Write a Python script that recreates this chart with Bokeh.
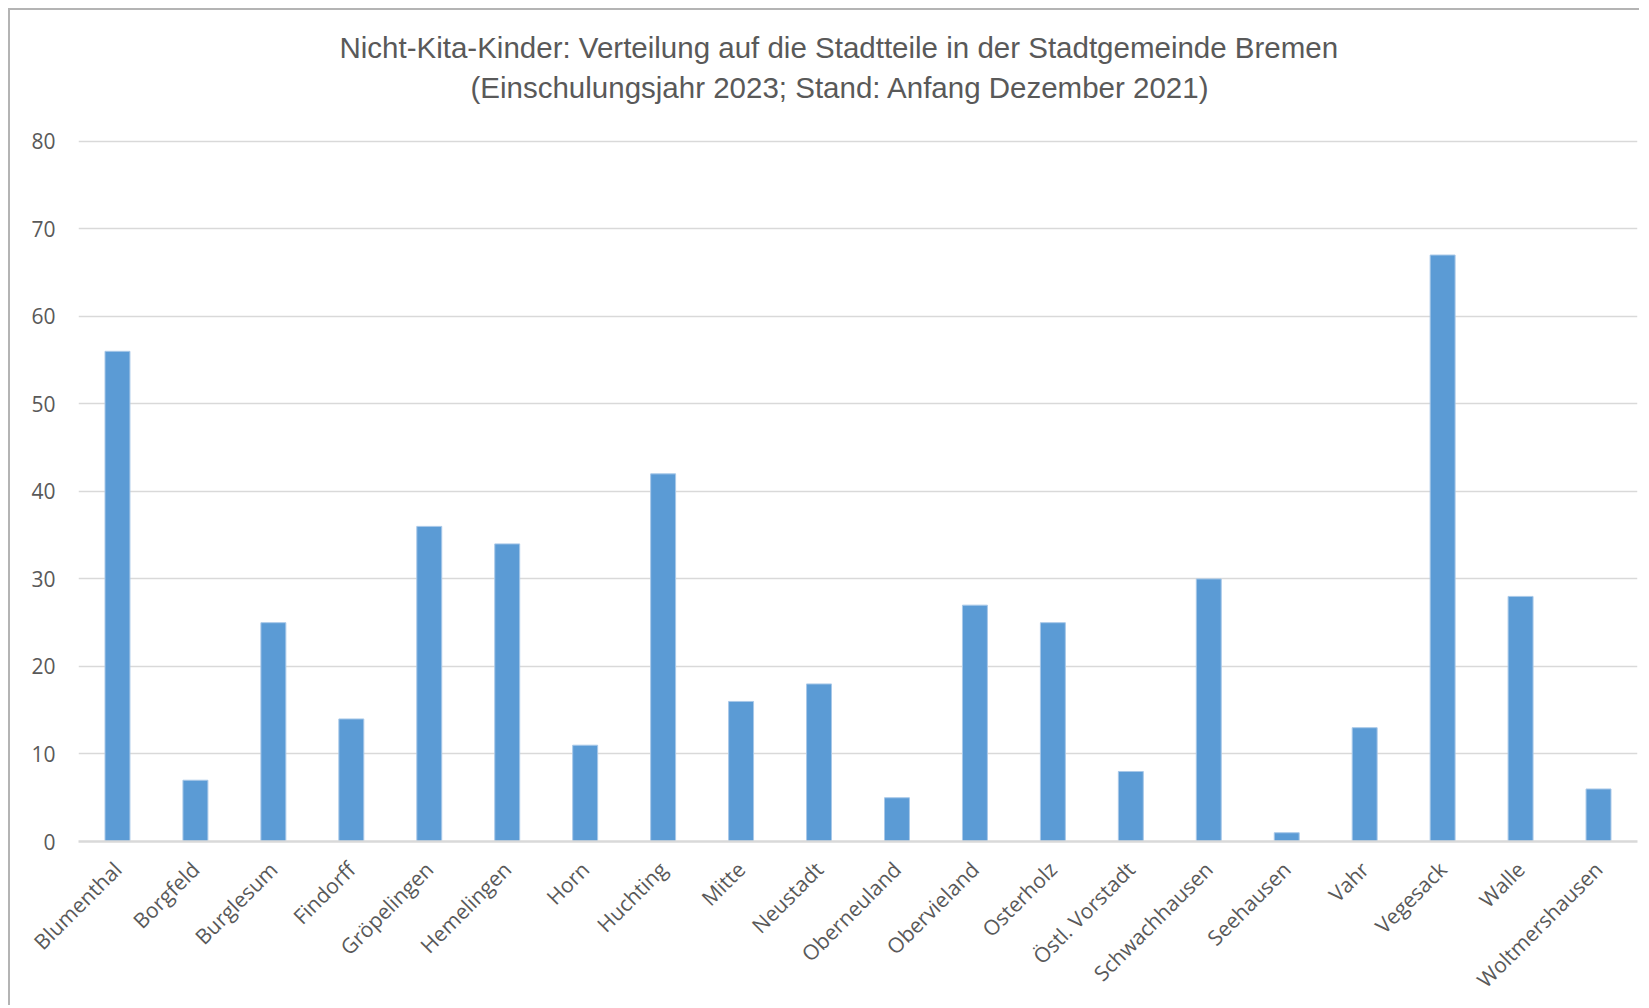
import math
from bokeh.plotting import figure
from bokeh.models import FactorRange, Range1d, FixedTicker, Title
from bokeh.embed import file_html
from bokeh.resources import INLINE

districts = ["Blumenthal", "Borgfeld", "Burglesum", "Findorff", "Gröpelingen",
             "Hemelingen", "Horn", "Huchting", "Mitte", "Neustadt", "Oberneuland",
             "Obervieland", "Osterholz", "Östl. Vorstadt", "Schwachhausen",
             "Seehausen", "Vahr", "Vegesack", "Walle", "Woltmershausen"]
counts = [56, 7, 25, 14, 36, 34, 11, 42, 16, 18, 5, 27, 25, 8, 30, 1, 13, 67, 28, 6]
y_ticks = [0, 10, 20, 30, 40, 50, 60, 70, 80]
title_line1 = "Nicht-Kita-Kinder: Verteilung auf die Stadtteile in der Stadtgemeinde Bremen"
title_line2 = "(Einschulungsjahr 2023; Stand: Anfang Dezember 2021)"

TXT = "#595959"
GRID = "#d9d9d9"

p = figure(x_range=FactorRange(*districts, range_padding=0),
           y_range=Range1d(0, 80.2),
           width=1631, height=997,
           min_border_left=68, min_border_right=4,
           min_border_top=129, min_border_bottom=166,
           output_backend="svg", toolbar_location=None)
p.styles = {"border-left": "2px solid #b4b4b4", "border-top": "2px solid #b4b4b4",
            "margin-left": "8px", "margin-top": "8px"}
p.outline_line_color = None
p.background_fill_color = "white"
p.border_fill_color = "white"

p.vbar(x=districts, top=counts, width=0.32, fill_color="#5b9bd5",
       line_color="#a8c8e8", line_width=1)

p.xgrid.grid_line_color = None
p.ygrid.grid_line_color = GRID
p.ygrid.grid_line_width = 1.5
p.yaxis.ticker = FixedTicker(ticks=y_ticks)
p.yaxis.axis_line_color = None
p.yaxis.major_tick_line_color = None
p.yaxis.minor_tick_line_color = None
p.yaxis.major_label_text_font = "Open Sans"
p.yaxis.major_label_text_font_size = "21px"
p.yaxis.major_label_text_color = TXT
p.yaxis.major_label_standoff = 17

p.xaxis.axis_line_color = GRID
p.xaxis.axis_line_width = 2.5
p.xaxis.major_tick_line_color = None
p.xaxis.major_tick_out = 0
p.xaxis.major_tick_in = 0
p.xaxis.major_label_orientation = math.pi / 4
p.xaxis.major_label_text_font = "Open Sans"
p.xaxis.major_label_text_font_size = "21px"
p.xaxis.major_label_text_color = TXT
p.xaxis.major_label_standoff = 24

t2 = Title(text=title_line2, align="left", offset=392, standoff=72,
           text_font="Liberation Sans", text_font_size="29.5px",
           text_font_style="normal", text_color=TXT)
t1 = Title(text=title_line1, align="left", offset=261, standoff=-63,
           text_font="Liberation Sans", text_font_size="29.5px",
           text_font_style="normal", text_color=TXT)
p.add_layout(t2, "above")
p.add_layout(t1, "above")

open("out.html", "w").write(file_html(p, INLINE))
